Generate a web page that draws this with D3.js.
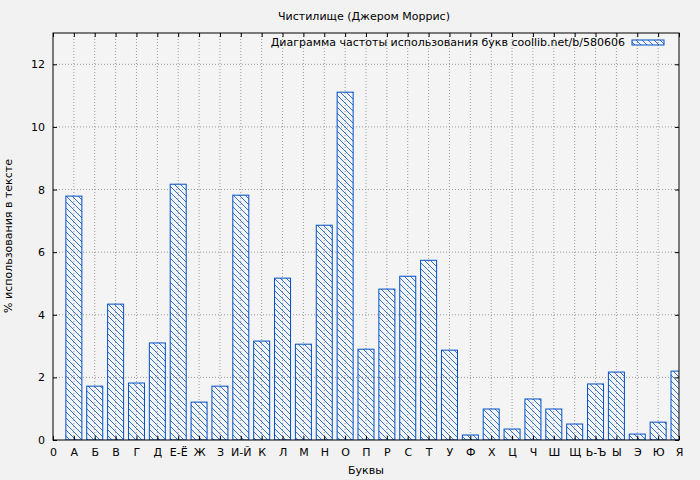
<!DOCTYPE html>
<html><head><meta charset="utf-8">
<script src="https://cdn.jsdelivr.net/npm/d3@7"></script>
<style>body{margin:0;background:#f2f2f2}text{font-family:"DejaVu Sans",sans-serif}</style>
</head><body><div id="chart"></div>
<script>
const letters = ["А","Б","В","Г","Д","Е-Ё","Ж","З","И-Й","К","Л","М","Н","О","П","Р","С","Т","У","Ф","Х","Ц","Ч","Ш","Щ","Ь-Ъ","Ы","Э","Ю","Я"];
const values = [7.79,1.72,4.34,1.82,3.10,8.17,1.21,1.72,7.82,3.16,5.17,3.06,6.86,11.11,2.90,4.82,5.23,5.74,2.87,0.16,0.99,0.35,1.31,0.99,0.51,1.79,2.17,0.19,0.57,2.20];
const yTicks = [0,2,4,6,8,10,12];
const xLabels = ["0"].concat(letters);

const W = 700, H = 480, m = {top:33, right:21, bottom:40, left:53};
const w = W - m.left - m.right, h = H - m.top - m.bottom;
const blue = "#0050c8";

const svg = d3.select("#chart").append("svg").attr("width", W).attr("height", H);
svg.append("rect").attr("width", W).attr("height", H).attr("fill", "#f2f2f2");

const defs = svg.append("defs");
const pat = defs.append("pattern").attr("id","hatch").attr("patternUnits","userSpaceOnUse")
  .attr("width",6).attr("height",6);
pat.append("path").attr("d","M-1,-1 L7,7 M-4,2 L4,10 M2,-4 L10,4").attr("stroke",blue).attr("stroke-width",0.8);
defs.append("clipPath").attr("id","clip").append("rect").attr("width",w).attr("height",h);

const g = svg.append("g").attr("transform",`translate(${m.left},${m.top})`);
g.append("rect").attr("width",w).attr("height",h).attr("fill","#f4f4f4");

const x = d3.scaleLinear().domain([0,30]).range([0,w]);
const y = d3.scaleLinear().domain([0,13]).range([h,0]);

// grid
g.selectAll(".gx").data(d3.range(1,30)).enter().append("line")
  .attr("x1",d=>x(d)).attr("x2",d=>x(d)).attr("y1",0).attr("y2",h)
  .attr("stroke","#999").attr("stroke-dasharray","1,2");
g.selectAll(".gy").data(yTicks.slice(1)).enter().append("line")
  .attr("x1",0).attr("x2",w).attr("y1",d=>y(d)).attr("y2",d=>y(d))
  .attr("stroke","#999").attr("stroke-dasharray","1,2");

// bars
const bw = 16;
g.append("g").attr("clip-path","url(#clip)").selectAll("rect").data(values).enter().append("rect")
  .attr("x",(d,i)=>x(i+1)-bw/2).attr("width",bw)
  .attr("y",d=>y(d)).attr("height",d=>h-y(d))
  .attr("fill","url(#hatch)").attr("stroke",blue).attr("stroke-width",1);

// axes
g.append("g").attr("transform",`translate(0,${h})`)
  .call(d3.axisBottom(x).tickValues(d3.range(0,31)).tickFormat(i=>xLabels[i]).tickSize(-4).tickPadding(8))
  .call(s=>s.select(".domain").remove()).selectAll("text").attr("font-size",11).attr("fill","#000");
g.append("g")
  .call(d3.axisLeft(y).tickValues(yTicks).tickSize(-4).tickPadding(8))
  .call(s=>s.select(".domain").remove()).selectAll("text").attr("font-size",11).attr("fill","#000");
g.append("g").attr("transform",`translate(${w},0)`)
  .call(d3.axisRight(y).tickValues(yTicks).tickSize(-4).tickFormat(""))
  .call(s=>s.select(".domain").remove());
g.append("g").call(d3.axisTop(x).tickValues(d3.range(0,31)).tickSize(-4).tickFormat(""))
  .call(s=>s.select(".domain").remove());
g.selectAll(".tick line").attr("stroke","#000");
g.append("rect").attr("width",w).attr("height",h).attr("fill","none").attr("stroke","#000");

// legend
g.append("text").attr("x",572).attr("y",13).attr("text-anchor","end").attr("font-size",11)
  .text("Диаграмма частоты использования букв coollib.net/b/580606");
g.append("rect").attr("x",579).attr("y",7).attr("width",32).attr("height",5)
  .attr("fill","url(#hatch)").attr("stroke",blue);

// titles
svg.append("text").attr("x",364).attr("y",20).attr("text-anchor","middle").attr("font-size",11)
  .text("Чистилище (Джером Моррис)");
svg.append("text").attr("x",366).attr("y",474).attr("text-anchor","middle").attr("font-size",11).text("Буквы");
svg.append("text").attr("transform","translate(12,236) rotate(-90)").attr("text-anchor","middle")
  .attr("font-size",11).text("% использования в тексте");
</script></body></html>
